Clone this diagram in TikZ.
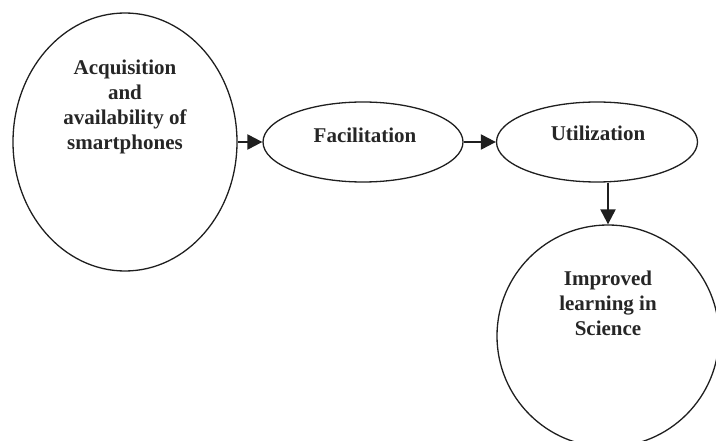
\documentclass[tikz,border=0pt]{standalone}
\usepackage{fontspec}
\setmainfont{Liberation Serif}
\usetikzlibrary{shapes.geometric,arrows.meta}
\begin{document}
\begin{tikzpicture}[x=1pt,y=-1pt,
  shp/.style={draw=black!88, line width=1.3pt, ellipse, inner sep=0pt},
  lbl/.style={font=\fontsize{21}{25}\selectfont\bfseries, align=center, text=black!85},
  arr/.style={draw=black!88, line width=2.2pt, -{Triangle[length=15pt,width=15pt]}}]
\useasboundingbox (0,0) rectangle (716,441);
\clip (0,0) rectangle (716,441);
\node[shp, minimum width=224pt, minimum height=258pt] (acq) at (125,142) {};
\node[lbl] (acqt) at (125,107) {Acquisition\\and\\availability of\\smartphones};
\node[shp, minimum width=200pt, minimum height=80pt] (fac) at (363,142) {};
\node[lbl] (fact) at (365,135) {Facilitation};
\node[shp, minimum width=201pt, minimum height=80pt] (uti) at (597,142) {};
\node[lbl] (utit) at (598,133) {Utilization};
\node[shp, circle, minimum size=222pt] (imp) at (608,336) {};
\node[lbl] (impt) at (608,303) {Improved\\learning in\\Science};
\draw[arr] (acq.east) -- (fac.west);
\draw[arr] (fac.east) -- (uti.west);
\draw[arr] (uti.south -| imp.north) -- (imp.north);
\end{tikzpicture}
\end{document}
